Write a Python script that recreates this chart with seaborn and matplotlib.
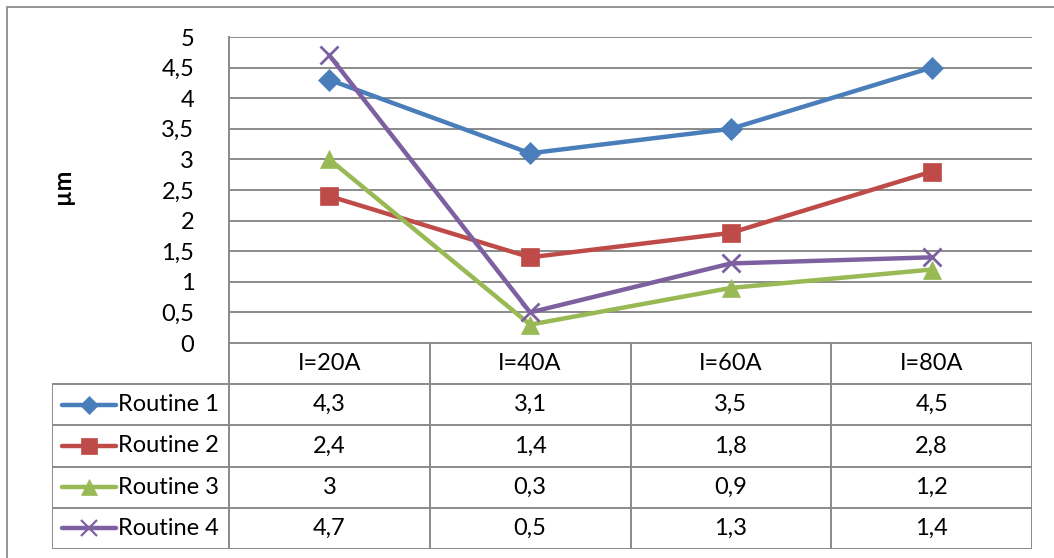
import numpy as np
import matplotlib
matplotlib.use("Agg")
import matplotlib.pyplot as plt
from matplotlib.patches import Rectangle
import seaborn as sns

categories = ["I=20A", "I=40A", "I=60A", "I=80A"]
series_names = ["Routine 1", "Routine 2", "Routine 3", "Routine 4"]
routine_1 = [4.3, 3.1, 3.5, 4.5]
routine_2 = [2.4, 1.4, 1.8, 2.8]
routine_3 = [3.0, 0.3, 0.9, 1.2]
routine_4 = [4.7, 0.5, 1.3, 1.4]
y_ticks = [0, 0.5, 1, 1.5, 2, 2.5, 3, 3.5, 4, 4.5, 5]
y_label = "µm"

series_values = [routine_1, routine_2, routine_3, routine_4]
colors = ["#4A7EBB", "#BE4B48", "#98B954", "#7D60A0"]
markers = ["D", "s", "^", "x"]
marker_sizes = [11, 13, 13, 13]
small_sizes = [9, 11, 11, 11]

sns.set_theme(style="white")
plt.rcParams["font.family"] = ["Lato", "DejaVu Sans"]

W, H = 1054, 558
FS = 17
TXT = "#000000"
fig = plt.figure(figsize=(W / 100, H / 100), dpi=100)
fig.patch.set_facecolor("white")

grid_c = "#8A8A8A"


def fx(px):
    return px / W


def fy(py):
    return 1 - py / H


# chart-area frame
fig.patches.append(Rectangle((fx(7), fy(H + 20)), 2.0, fy(7) - fy(H + 20),
                             transform=fig.transFigure, fill=False,
                             edgecolor="#8C8C8C", linewidth=1.3))

# plot area
ax = fig.add_axes([fx(229), fy(343), fx(1032) - fx(229), (343 - 37) / H])
ax.set_facecolor("none")
for i, (name, vals) in enumerate(zip(series_names, series_values)):
    sns.lineplot(x=categories, y=vals, ax=ax, color=colors[i], marker=markers[i],
                 markersize=marker_sizes[i], markeredgecolor=colors[i],
                 markeredgewidth=2.0 if markers[i] == "x" else 0.5,
                 linewidth=3.2, sort=False, label=name, legend=False, zorder=3)

ax.set_xlim(-0.5, 3.5)
ax.set_ylim(0, 5)
ax.set_yticks(y_ticks)
ax.set_yticklabels([f"{v:g}".replace(".", ",") for v in y_ticks], fontsize=FS,
                   color=TXT)
ax.tick_params(axis="y", length=0, pad=25)
ax.tick_params(axis="x", length=0, labelbottom=False)
ax.set_xlabel("")
ax.yaxis.grid(True, color=grid_c, linewidth=1.4)
ax.xaxis.grid(False)
for s in ["top", "right", "bottom"]:
    ax.spines[s].set_visible(False)
ax.spines["left"].set_color(grid_c)
ax.spines["left"].set_linewidth(1.4)
ax.set_ylabel("")
fig.text(fx(62), fy(186), y_label, rotation=90, ha="center", va="center",
         fontsize=FS, fontweight="bold", color=TXT)

# data table beneath the plot
left_u = -(229 - 52) / ((1032 - 229) / 4)
tax = fig.add_axes([fx(52), fy(549), fx(1032) - fx(52), (549 - 343) / H])
tax.set_xlim(left_u, 4)
tax.set_ylim(5, 0)
tax.axis("off")
lk = dict(color=grid_c, linewidth=1.4, solid_capstyle="projecting")
tax.plot([0, 4], [0, 0], **lk)
for r in range(1, 6):
    tax.plot([left_u, 4], [r, r], **lk)
tax.plot([left_u, left_u], [1, 5], **lk)
for c in range(5):
    tax.plot([c, c], [0, 5], **lk)

for j, cat in enumerate(categories):
    tax.text(j + 0.5, 0.5, cat, ha="center", va="center", fontsize=FS, color=TXT)
for i, (name, vals) in enumerate(zip(series_names, series_values)):
    yc = i + 1.5
    tax.plot([left_u + 0.05, left_u + 0.32], [yc, yc], color=colors[i],
             linewidth=3.2, solid_capstyle="round")
    tax.plot([left_u + 0.185], [yc], marker=markers[i], color=colors[i],
             markersize=small_sizes[i], markeredgecolor=colors[i],
             markeredgewidth=1.6 if markers[i] == "x" else 0.5)
    tax.text(left_u + 0.33, yc, name, ha="left", va="center", fontsize=FS,
             color=TXT)
    for j, v in enumerate(vals):
        tax.text(j + 0.5, yc, f"{v:g}".replace(".", ","), ha="center",
                 va="center", fontsize=FS, color=TXT)

fig.savefig("out.png", dpi=100, facecolor="white")
